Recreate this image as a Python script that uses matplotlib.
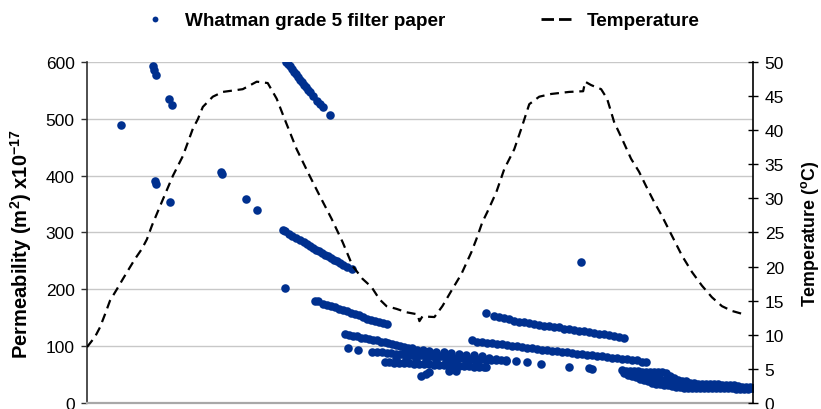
import matplotlib
matplotlib.use("Agg")
import matplotlib.pyplot as plt
from matplotlib.lines import Line2D
import numpy as np

plt.rcParams["font.family"] = ["Liberation Sans", "DejaVu Sans"]
plt.rcParams["mathtext.default"] = "regular"

# Elapsed time (arbitrary units) and temperature (deg C).
temp_time = [0, 8, 13, 18, 23, 30, 36, 43, 48, 55, 60, 65, 75, 86, 96, 106,
             111, 116, 126, 136, 156, 170, 181, 190, 198, 210, 223, 233, 245,
             256, 266, 276, 285, 293, 300, 310, 320, 331, 333, 336, 348, 356,
             366, 375, 385, 390, 396, 401, 410, 418, 428, 435, 443, 453, 465,
             483, 497, 499, 505, 515, 521, 528, 536, 545, 553, 560, 568, 576,
             586, 596, 606, 616, 626, 636, 646, 658]
temp_vals = [8.2, 9.7, 11.1, 13.0, 15.0, 16.7, 18.2, 19.9, 21.1, 22.6, 24.0,
             26.0, 29.5, 33.3, 36.2, 40.2, 41.6, 43.4, 44.9, 45.6, 46.0, 47.1,
             46.9, 44.6, 41.6, 37.2, 33.3, 30.4, 27.0, 23.6, 20.1, 18.2, 17.0,
             15.2, 14.2, 13.8, 13.3, 13.0, 12.0, 12.7, 12.6, 14.2, 16.7, 18.9,
             22.1, 24.0, 26.5, 28.0, 30.9, 34.3, 37.2, 40.2, 43.8, 44.9, 45.3,
             45.6, 45.7, 47.1, 46.6, 46.0, 44.6, 41.2, 38.7, 35.8, 33.9, 31.8,
             29.5, 27.4, 24.5, 21.6, 19.2, 17.2, 15.5, 14.2, 13.5, 13.0]

# Permeability readings (x10^-17 m2), grouped by stretch of the record.
early_t = [34, 66, 67, 69, 82, 85, 68, 69, 83, 134, 135, 159, 170, 198, 495]
early_k = [489, 593, 586, 577, 534, 524, 390, 386, 354, 406, 402, 359, 340,
           202, 248]

drop1_t = [199, 201, 203, 205, 207, 209, 211, 213, 215, 217, 219, 221, 223,
           226, 230, 233, 236, 243]
drop1_k = [600, 596, 592, 587, 583, 578, 574, 569, 565, 560, 556, 551, 547,
           540, 532, 526, 521, 507]

drop2_t = [196, 198, 202, 205, 209, 213, 217, 220, 223, 226, 229, 232, 235,
           238, 241, 244, 247, 250, 253, 256, 260, 265]
drop2_k = [304, 302, 298, 294, 290, 287, 283, 280, 276, 273, 270, 267, 264,
           261, 258, 255, 252, 249, 246, 243, 239, 235]

drop3_t = [228, 231, 236, 240, 244, 248, 252, 256, 260, 264, 268, 272, 276,
           280, 284, 288, 292, 296, 301]
drop3_k = [180, 179, 175, 173, 171, 169, 166, 164, 161, 159, 156, 154, 151,
           148, 146, 144, 142, 141, 139]

drop4_t = [258, 262, 266, 270, 274, 278, 282, 286, 290, 294, 298, 302, 306,
           310, 314, 318, 322, 326, 331, 337, 343, 350, 358, 365, 373, 380,
           388, 396, 403, 410, 420, 430, 441, 455, 483, 503, 506, 261, 271]
drop4_k = [121, 120, 118, 117, 115, 114, 112, 111, 110, 108, 107, 105, 104,
           102, 100, 99, 97, 96, 94, 93, 91, 90, 89, 88, 86, 85, 84, 82, 80,
           78, 76, 74, 73, 69, 63, 61, 60, 96, 94]

low_t = [285, 290, 295, 300, 305, 310, 315, 320, 325, 330, 335, 340, 345, 350,
         355, 360, 365, 370, 375, 380, 385, 390, 395, 400, 405, 410, 415, 420,
         298, 303, 308, 313, 318, 323, 328, 333, 338, 343, 348, 353, 358, 363,
         368, 373, 378, 383, 388, 393, 400, 310, 320, 330, 340, 350, 360, 370,
         380, 390, 335, 340, 343, 363, 370, 393, 398]
low_k = [90, 89, 89, 88, 88, 87, 86, 86, 85, 85, 84, 83, 83, 82, 82, 81, 80,
         80, 79, 79, 78, 78, 77, 76, 76, 75, 75, 74,
         72, 72, 71, 71, 70, 70, 69, 69, 68, 68, 67, 67, 67, 66, 66, 65, 65,
         65, 64, 64, 63, 79, 78, 77, 76, 75, 74, 73, 72, 71, 48, 51, 54, 57,
         57, 65, 63]

second_a_t = [400, 408, 413, 418, 423, 428, 433, 438, 443, 448, 453, 458, 463,
              468, 473, 478, 483, 488, 493, 498, 503, 508, 513, 518, 523, 528,
              533, 538]
second_a_k = [158, 153, 151, 149, 147, 145, 143, 142, 141, 139, 138, 136, 135,
              134, 133, 131, 130, 129, 127, 126, 125, 124, 122, 121, 119, 117,
              116, 114]

second_b_t = [386, 391, 396, 401, 406, 411, 416, 421, 426, 431, 436, 441, 446,
              451, 456, 461, 466, 471, 476, 481, 486, 491, 496, 501, 506, 511,
              516, 521, 526, 531, 536, 541, 546, 551, 556, 560]
second_b_k = [110, 108, 107, 106, 105, 104, 103, 102, 101, 100, 99, 97, 96,
              95, 94, 93, 92, 91, 90, 89, 88, 87, 86, 85, 84, 83, 82, 81, 80,
              79, 78, 77, 76, 75, 73, 72]

tail_t = [536, 540, 544, 548, 552, 556, 560, 564, 568, 572, 576, 580, 584, 588,
          592, 596, 600, 604, 608, 612, 616, 620, 624, 628, 632, 636, 640, 644,
          648, 652, 656, 660, 664, 667,
          538, 542, 546, 550, 554, 558, 562, 566, 570, 574, 578, 582, 586, 590,
          594, 598, 602, 606, 610, 614, 618, 622, 626, 630, 634, 638, 642, 646,
          650, 654, 658, 662, 667,
          550, 556, 562, 568, 574, 580, 586, 592, 598, 604, 610, 616, 622, 628,
          634, 640, 646, 652, 658, 664]
tail_k = [58, 57, 57, 56, 56, 55, 55, 55, 54, 54, 54, 53, 48, 44, 41, 39, 38,
          36, 35, 34, 34, 33, 33, 33, 33, 32, 32, 32, 31, 30, 29, 28, 28, 27,
          52, 49, 47, 45, 43, 40, 38, 36, 34, 33, 32, 31, 30, 29, 28, 27, 27,
          27, 26, 26, 26, 26, 26, 26, 26, 26, 26, 26, 25, 25, 25, 25, 26,
          52, 50, 48, 45, 42, 40, 38, 35, 33, 31, 30, 30, 29, 29, 29, 28, 28,
          27, 27, 27]

perm_t = np.concatenate([early_t, drop1_t, drop2_t, drop3_t, drop4_t, low_t,
                         second_a_t, second_b_t, tail_t])
perm_k = np.concatenate([early_k, drop1_k, drop2_k, drop3_k, drop4_k, low_k,
                         second_a_k, second_b_k, tail_k])

blue = "#00308f"

fig = plt.figure(figsize=(8.21, 4.10), dpi=100)
ax = fig.add_axes([0.106, 0.0146, 0.811, 0.832])
ax2 = ax.twinx()

ax.scatter(perm_t, perm_k, s=38, color=blue, linewidths=0, zorder=3)
ax2.plot(temp_time, temp_vals, color="black", linewidth=1.6,
         linestyle=(0, (4, 2.6)))

ax.set_xlim(0, 667)
ax.set_ylim(0, 600)
ax2.set_ylim(0, 50)
ax.set_yticks(np.arange(0, 601, 100))
ax2.set_yticks(np.arange(0, 51, 5))
ax.set_xticks([])

ax.yaxis.grid(True, color="#c8c8c8", linewidth=1.0)
ax.set_axisbelow(True)

ax.spines["top"].set_visible(False)
ax2.spines["top"].set_visible(False)
ax.spines["bottom"].set_color("#a8a8a8")
ax.spines["bottom"].set_linewidth(1.6)
ax2.spines["bottom"].set_visible(False)
ax.spines["left"].set_color("#303030")
ax.spines["left"].set_linewidth(1.2)
ax2.spines["left"].set_visible(False)
ax2.spines["right"].set_color("black")
ax2.spines["right"].set_linewidth(1.2)
ax.spines["right"].set_visible(False)

ax.tick_params(axis="y", direction="out", length=4, width=1.0,
               color="#303030", labelsize=12.5, pad=5)
ax2.tick_params(axis="y", direction="inout", length=7, width=1.0,
                color="black", labelsize=12.5, pad=5)

ax.set_ylabel("Permeability (m$^{2}$) x10$^{-17}$", fontsize=14.5,
              fontweight="bold")
ax.yaxis.set_label_coords(-0.079, 0.47)
ax2.set_ylabel("Temperature ($^{o}$C)", fontsize=12.8, fontweight="bold")
ax2.yaxis.set_label_coords(1.07, 0.5)

handles = [
    Line2D([], [], linestyle="none", marker="o", markersize=4.2,
           markerfacecolor=blue, markeredgewidth=0),
    Line2D([], [], color="black", linewidth=2, dashes=(4.5, 1.8)),
]
fig.legend(handles, ["Whatman grade 5 filter paper", "Temperature"],
           loc="upper center", bbox_to_anchor=(0.511, 1.01), ncol=2,
           frameon=False, handlelength=1.6, handletextpad=0.8,
           columnspacing=5.1, prop={"size": 13.6, "weight": "bold"})

fig.savefig("out.png", dpi=100)
